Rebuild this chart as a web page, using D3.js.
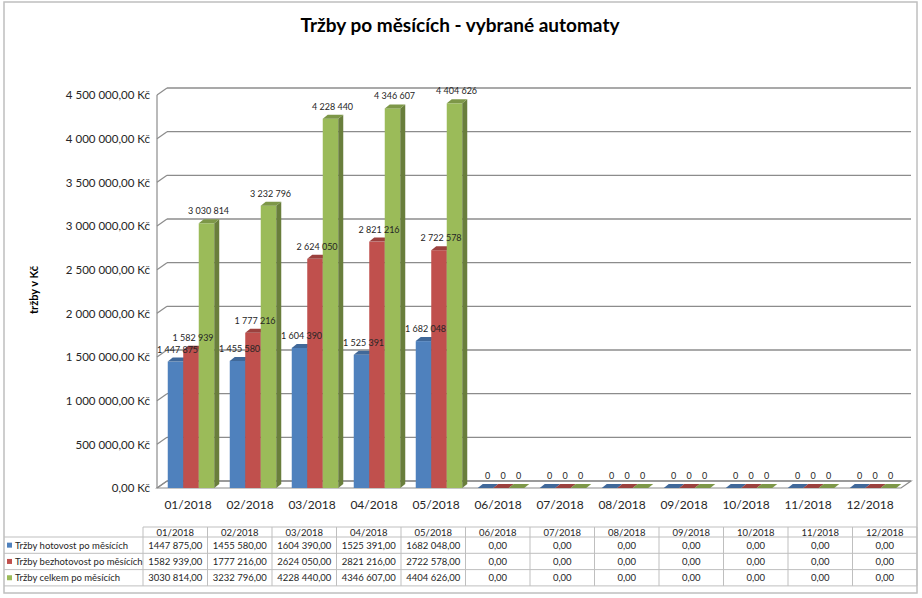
<!DOCTYPE html>
<html>
<head>
<meta charset="utf-8">
<script src="https://cdn.jsdelivr.net/npm/d3@7"></script>
<style>
  body { margin: 0; background: #fff; }
  text { font-family: Lato, "Liberation Sans", sans-serif; fill: #262626; }
</style>
</head>
<body>
<div id="chart"></div>
<script>
var months = ['01/2018','02/2018','03/2018','04/2018','05/2018','06/2018','07/2018','08/2018','09/2018','10/2018','11/2018','12/2018']
var hotovost = [1447875, 1455580, 1604390, 1525391, 1682048, 0, 0, 0, 0, 0, 0, 0]
var bezhotovost = [1582939, 1777216, 2624050, 2821216, 2722578, 0, 0, 0, 0, 0, 0, 0]
var celkem = [3030814, 3232796, 4228440, 4346607, 4404626, 0, 0, 0, 0, 0, 0, 0]
var seriesNames = ['Tržby hotovost po měsících', 'Tržby bezhotovost po měsících', 'Tržby celkem po měsících']
var yTicks = [0, 500000, 1000000, 1500000, 2000000, 2500000, 3000000, 3500000, 4000000, 4500000]

var series = [hotovost, bezhotovost, celkem]
var colors = ['#4f81bd', '#c0504d', '#9bbb59']

var width = 922, height = 598
var cz = d3.formatLocale({decimal: ',', thousands: '\u00a0', grouping: [3], currency: ['', ' Kč']})
var fmtAxis = cz.format(',.2f')
var fmtLabel = cz.format(',.0f')
function fmtTable(v){
  if (v == 0) return '0,00'
  var r = String(v % 1000).padStart(3, '0')
  return Math.floor(v / 1000) + ' ' + r + ',00'
}

var svg = d3.select('#chart').append('svg').attr('width', width).attr('height', height)

// outer border
svg.append('rect').attr('x', 4).attr('y', 2).attr('width', 913).attr('height', 591)
  .attr('fill', 'none').attr('stroke', '#bfbfbf').attr('stroke-width', 1.5)

svg.append('text').attr('x', 460).attr('y', 32).attr('text-anchor', 'middle')
  .style('font-size', '19px').style('font-weight', 'bold').style('fill', '#000')
  .text('Tržby po měsících - vybrané automaty')

svg.append('text').attr('transform', 'translate(38,290) rotate(-90)').attr('text-anchor', 'middle')
  .style('font-size', '11px').style('font-weight', 'bold').style('fill', '#000')
  .text('tržby v Kč')

// 3d plot geometry
var x = d3.scaleBand().domain(months).range([157, 901])
var y = d3.scaleLinear().domain([0, 4500000]).range([488, 95])
var inner = d3.scaleBand().domain([0, 1, 2]).range([0, x.bandwidth()]).paddingOuter(0.5)
var depth = {dx: 10, dy: -7}
var bar = {dx: 5, dy: -4, shift: 3}

var grid = svg.append('g')
// back wall gridlines + side wall diagonals
yTicks.forEach(function(t){
  var yy = y(t)
  grid.append('line').attr('x1', x.range()[0] + depth.dx).attr('x2', x.range()[1] + depth.dx)
    .attr('y1', yy + depth.dy).attr('y2', yy + depth.dy)
    .attr('stroke', '#8c8c8c').attr('stroke-width', 1.4)
  grid.append('line').attr('x1', x.range()[0]).attr('x2', x.range()[0] + depth.dx)
    .attr('y1', yy).attr('y2', yy + depth.dy)
    .attr('stroke', '#8c8c8c').attr('stroke-width', 1.2)
})
// floor
grid.append('path')
  .attr('d', 'M' + x.range()[0] + ',' + y(0) + 'L' + x.range()[1] + ',' + y(0) +
    'L' + (x.range()[1] + depth.dx) + ',' + (y(0) + depth.dy) + 'L' + (x.range()[0] + depth.dx) + ',' + (y(0) + depth.dy) + 'Z')
  .attr('fill', 'none').attr('stroke', '#8c8c8c').attr('stroke-width', 1.2)
grid.append('line').attr('x1', x.range()[0]).attr('x2', x.range()[0])
  .attr('y1', y(4500000)).attr('y2', y(0)).attr('stroke', '#8c8c8c').attr('stroke-width', 1.2)

// y axis labels
var yAxis = svg.append('g').attr('transform', 'translate(150,0)')
  .call(d3.axisLeft(y).tickValues(yTicks).tickSize(0).tickPadding(0).tickFormat(function(d){ return fmtAxis(d) + ' Kč' }))
yAxis.select('.domain').remove()
yAxis.selectAll('text').style('font-size', '11.5px').style('font-family', 'Lato, sans-serif').attr('fill', '#262626')

// x axis labels
var xAxis = svg.append('g').attr('transform', 'translate(0,' + (y(0) + 10) + ')')
  .call(d3.axisBottom(x).tickSize(0).tickPadding(2))
xAxis.select('.domain').remove()
xAxis.selectAll('text').style('font-size', '12px').style('font-family', 'Lato, sans-serif').attr('fill', '#262626')

// bars
var bars = svg.append('g')
var labels = svg.append('g')
var cells = []
months.forEach(function(m, i){
  series.forEach(function(s, k){ cells.push({m: m, k: k, v: s[i]}) })
})
cells.forEach(function(d){
  var x0 = x(d.m) + inner(d.k) + bar.shift
  var w = inner.bandwidth()
  var y0 = y(0), y1 = y(d.v)
  var c = d3.color(colors[d.k])
  var g = bars.append('g')
  if (d.v > 0) {
    g.append('rect').attr('x', x0).attr('y', y1).attr('width', w).attr('height', y0 - y1).attr('fill', c)
    g.append('path').attr('d', 'M' + (x0 + w) + ',' + y1 + 'l' + bar.dx + ',' + bar.dy + 'L' + (x0 + w + bar.dx) + ',' + (y0 + bar.dy) + 'L' + (x0 + w) + ',' + y0 + 'Z')
      .attr('fill', c.darker(1.1))
  }
  g.append('path').attr('d', 'M' + x0 + ',' + y1 + 'L' + (x0 + w) + ',' + y1 + 'l' + bar.dx + ',' + bar.dy + 'L' + (x0 + bar.dx) + ',' + (y1 + bar.dy) + 'Z')
    .attr('fill', c.darker(0.6))
  labels.append('text').attr('x', x0 + w / 2 + 2).attr('y', y1 + bar.dy - 5).attr('text-anchor', 'middle')
    .style('font-size', '9px').text(fmtLabel(d.v))
})

// data table
var tx = d3.scaleBand().domain(months).range([143, 917])
var rowTop = 527, headH = 10, rowH = 16.3
var table = svg.append('g')
var lineColor = '#bfbfbf'
table.append('line').attr('x1', tx.range()[0]).attr('x2', tx.range()[1]).attr('y1', rowTop).attr('y2', rowTop).attr('stroke', lineColor)
for (var r = 0; r <= 3; r++) {
  var yy = rowTop + headH + r * rowH
  table.append('line').attr('x1', 4).attr('x2', tx.range()[1]).attr('y1', yy).attr('y2', yy).attr('stroke', lineColor)
}
months.concat(['']).forEach(function(m, i){
  var xx = i < months.length ? tx(m) : tx.range()[1]
  table.append('line').attr('x1', xx).attr('x2', xx).attr('y1', rowTop).attr('y2', rowTop + headH + 3 * rowH).attr('stroke', lineColor)
})
months.forEach(function(m){
  table.append('text').attr('x', tx(m) + tx.bandwidth() / 2).attr('y', rowTop + headH - 1.5).attr('text-anchor', 'middle')
    .style('font-size', '9.5px').text(m)
})
series.forEach(function(s, k){
  var yc = rowTop + headH + k * rowH + rowH / 2
  table.append('rect').attr('x', 7).attr('y', yc - 2.5).attr('width', 5).attr('height', 5).attr('fill', colors[k])
  table.append('text').attr('x', 15).attr('y', yc + 3.5).style('font-size', '9.5px').text(seriesNames[k])
  s.forEach(function(v, i){
    table.append('text').attr('x', tx(months[i]) + tx.bandwidth() / 2).attr('y', yc + 3.5).attr('text-anchor', 'middle')
      .style('font-size', '9.5px').text(fmtTable(v))
  })
})
</script>
</body>
</html>
